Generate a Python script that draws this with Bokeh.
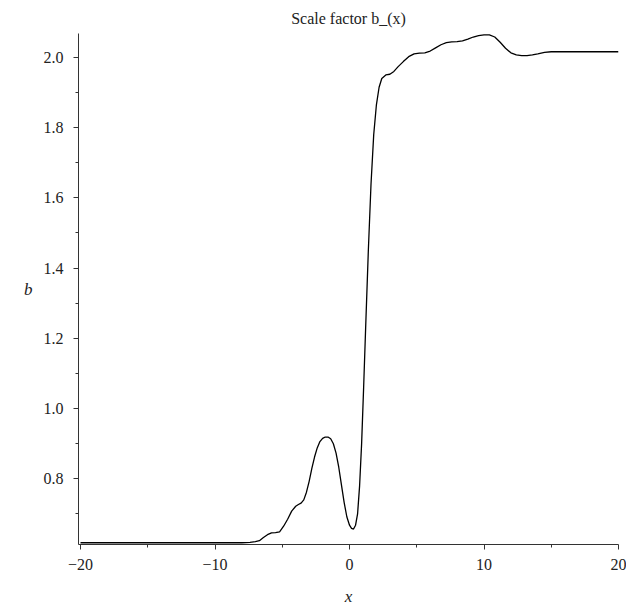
from bokeh.plotting import figure
from bokeh.models import Range1d, FixedTicker, Label
from bokeh.embed import file_html
from bokeh.resources import INLINE

x_vals = [-20, -16, -12, -9, -8, -7.4, -7, -6.7, -6.4, -6.1, -5.8, -5.5, -5.2, -4.9, -4.6,
          -4.3, -4.0, -3.8, -3.6, -3.4, -3.2, -3.0, -2.8, -2.6, -2.4, -2.2, -2.0, -1.8, -1.6,
          -1.4, -1.2, -1.0, -0.8, -0.6, -0.4, -0.2, 0.0, 0.15, 0.3, 0.45, 0.6, 0.75, 0.9, 1.05,
          1.2, 1.4, 1.6, 1.8, 2.0, 2.2, 2.4, 2.7, 3.0, 3.3, 3.6, 4.0, 4.4, 4.8, 5.2, 5.6, 6.0,
          6.4, 6.8, 7.2, 7.6, 8.0, 8.4, 8.8, 9.2, 9.6, 10.0, 10.4, 10.8, 11.2, 11.6, 12.0, 12.4,
          12.8, 13.2, 13.6, 14.0, 14.5, 15.0, 16, 18, 20]
b_vals = [0.618, 0.618, 0.618, 0.618, 0.618, 0.619, 0.621, 0.624, 0.633, 0.641, 0.646, 0.647,
          0.649, 0.665, 0.685, 0.708, 0.722, 0.727, 0.731, 0.740, 0.762, 0.793, 0.830, 0.862,
          0.888, 0.906, 0.915, 0.919, 0.919, 0.914, 0.900, 0.873, 0.833, 0.783, 0.733, 0.692,
          0.668, 0.659, 0.657, 0.668, 0.700, 0.780, 0.900, 1.060, 1.230, 1.450, 1.640, 1.780,
          1.865, 1.915, 1.940, 1.950, 1.952, 1.960, 1.973, 1.988, 2.002, 2.010, 2.012, 2.013,
          2.018, 2.027, 2.036, 2.042, 2.044, 2.045, 2.047, 2.052, 2.058, 2.062, 2.064, 2.064,
          2.058, 2.043, 2.026, 2.013, 2.007, 2.005, 2.005, 2.007, 2.010, 2.014, 2.016, 2.016,
          2.016, 2.016]

x_major = [-20, -10, 0, 10, 20]
x_minor = [-15, -5, 5, 15]
y_major = [0.8, 1.0, 1.2, 1.4, 1.6, 1.8, 2.0]
y_minor = [0.7, 0.9, 1.1, 1.3, 1.5, 1.7, 1.9]
x_labels = {-20: "\u221220", -10: "\u221210", 0: "0", 10: "10", 20: "20"}
y_labels = {0.8: "0.8", 1.0: "1.0", 1.2: "1.2", 1.4: "1.4", 1.6: "1.6", 1.8: "1.8", 2.0: "2.0"}

FONT = "Liberation Serif"

p = figure(width=626, height=610, output_backend="svg", toolbar_location=None,
           x_range=Range1d(-20.15, 20), y_range=Range1d(0.613, 2.068),
           min_border_left=78, min_border_right=8, min_border_top=33, min_border_bottom=66,
           title="Scale factor b_(x)")
p.title.align = "center"
p.title.vertical_align = "top"
p.title.text_font = FONT
p.title.text_font_size = "16px"
p.title.text_font_style = "normal"
p.title.text_color = "#222222"
p.title.offset = 0
p.title.standoff = 10
p.outline_line_color = None
p.grid.visible = False
p.background_fill_color = "white"
p.border_fill_color = "white"

p.line(x_vals, b_vals, line_color="black", line_width=1.3)

p.xaxis.ticker = FixedTicker(ticks=x_major, minor_ticks=x_minor)
p.yaxis.ticker = FixedTicker(ticks=y_major, minor_ticks=y_minor)
p.xaxis.major_label_overrides = x_labels
p.yaxis.major_label_overrides = y_labels

for ax in (p.xaxis, p.yaxis):
    ax.axis_line_color = "#333333"
    ax.major_tick_line_color = "#333333"
    ax.minor_tick_line_color = "#333333"
    ax.major_tick_in = 0
    ax.major_tick_out = 5
    ax.minor_tick_in = 0
    ax.minor_tick_out = 3
    ax.major_label_text_font = FONT
    ax.major_label_text_font_size = "16px"
    ax.major_label_text_color = "#222222"

p.xaxis.major_label_standoff = 9
p.yaxis.major_label_standoff = 10
p.xaxis.axis_label = "x"
p.xaxis.axis_label_text_font = FONT
p.xaxis.axis_label_text_font_style = "italic"
p.xaxis.axis_label_text_font_size = "17px"
p.xaxis.axis_label_standoff = 14
p.xaxis.axis_label_text_color = "#222222"

try:
    p.yaxis.axis_label_orientation = "horizontal"
    p.yaxis.axis_label = "b"
    p.yaxis.axis_label_text_font = FONT
    p.yaxis.axis_label_text_font_style = "italic"
    p.yaxis.axis_label_text_font_size = "17px"
    p.yaxis.axis_label_standoff = 8
    p.yaxis.axis_label_text_color = "#222222"
except Exception:
    p.add_layout(Label(x=-48, y=254, x_units="screen", y_units="screen", text="b",
                       text_font=FONT, text_font_style="italic",
                       text_font_size="17px", text_color="#222222",
                       text_align="center", text_baseline="middle"))

open("out.html", "w").write(file_html(p, INLINE))
